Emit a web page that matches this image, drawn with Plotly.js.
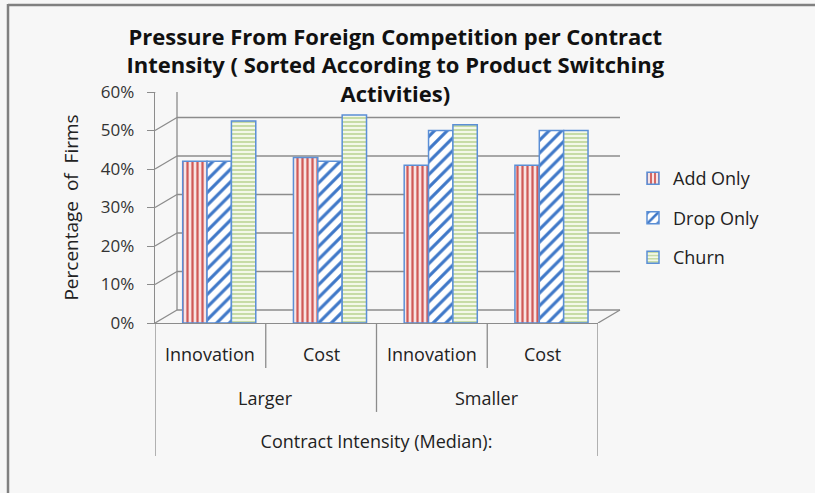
<!DOCTYPE html>
<html>
<head>
<meta charset="utf-8">
<script src="https://cdn.plot.ly/plotly-3.0.1.min.js"></script>
<style>html,body{margin:0;padding:0;background:#f7f7f7;}#chart{width:815px;height:493px;}</style>
</head>
<body>
<div id="chart"></div>
<script>
// ---- data ----
const groups = ['Larger', 'Larger', 'Smaller', 'Smaller'];
const subcats = ['Innovation', 'Cost', 'Innovation', 'Cost'];
const seriesNames = ['Add Only', 'Drop Only', 'Churn'];
const addOnly = [0.42, 0.43, 0.41, 0.41];
const dropOnly = [0.42, 0.42, 0.50, 0.50];
const churn = [0.525, 0.54, 0.515, 0.50];
const yTicks = [0, 0.1, 0.2, 0.3, 0.4, 0.5, 0.6];
const yTickLabels = ['0%', '10%', '20%', '30%', '40%', '50%', '60%'];
const titleText = 'Pressure From Foreign Competition per Contract<br>Intensity ( Sorted According to Product Switching<br>Activities)';
const xTitle = 'Contract Intensity (Median):';
const yTitle = 'Percentage  of  Firms';

const xCats = subcats.map((s, i) => groups[i] + ' ' + s);
const FONT = 'Open Sans, Noto Sans, sans-serif';
const GRID = '#8c8c8c';
const OUTLINE = '#5b8fd6';

const styles = [
  {fill: {shape: '|', fgcolor: '#d05a58', bgcolor: '#f8e4e4', size: 5, solidity: 0.45}, offset: -0.25},
  {fill: {shape: '/', fgcolor: '#3f78c8', bgcolor: '#ffffff', size: 9, solidity: 0.35}, offset: -0.03},
  {fill: {shape: '-', fgcolor: '#a9c97a', bgcolor: '#f3f8e8', size: 4, solidity: 0.3}, offset: 0.19}
];
const values = [addOnly, dropOnly, churn];

const traces = values.map((v, k) => ({
  type: 'bar',
  name: seriesNames[k],
  x: xCats,
  y: v,
  width: 0.22,
  offset: styles[k].offset,
  legendgroup: 'g' + k,
  marker: {color: styles[k].fill.bgcolor, pattern: styles[k].fill, line: {color: OUTLINE, width: 1.5}},
  hovertemplate: '%{y:.0%}<extra>' + seriesNames[k] + '</extra>'
}));

// back wall gridlines (oblique + horizontal), drawn with pixel offsets from the y scale
const shapes = [];
const DX = 22, DY = 13;
yTicks.forEach((t, i) => {
  shapes.push({type: 'line', layer: 'below', xref: 'paper', yref: 'y', xsizemode: 'pixel', ysizemode: 'pixel',
    xanchor: 0, yanchor: t, x0: 0, x1: DX, y0: 0, y1: DY, line: {color: GRID, width: 1.3}});
  shapes.push({type: 'line', layer: 'below', xref: 'paper', yref: 'y', xsizemode: 'pixel', ysizemode: 'pixel',
    xanchor: 0, yanchor: t, x0: DX, x1: (i === yTicks.length - 1 ? 383 : 465), y0: DY, y1: DY, line: {color: GRID, width: 1.3}});
});
// back wall left edge and floor right edge
shapes.push({type: 'line', layer: 'below', xref: 'paper', yref: 'y', xsizemode: 'pixel', ysizemode: 'pixel',
  xanchor: 0, yanchor: 0, x0: DX, x1: DX, y0: DY, y1: DY + 231, line: {color: GRID, width: 1.3}});
shapes.push({type: 'line', layer: 'below', xref: 'paper', yref: 'y', xsizemode: 'pixel', ysizemode: 'pixel',
  xanchor: 1, yanchor: 0, x0: 0, x1: DX, y0: 0, y1: DY, line: {color: GRID, width: 1.3}});
// category separators below the axis
const sepDepth = [-0.576, -0.195, -0.385, -0.195, -0.576];
sepDepth.forEach((d, i) => {
  shapes.push({type: 'line', xref: 'x', yref: 'paper', x0: i - 0.5, x1: i - 0.5, y0: 0, y1: d,
    line: {color: GRID, width: 1.3}});
});
// outer border of the chart picture
shapes.push({type: 'line', xref: 'paper', yref: 'paper', xsizemode: 'pixel', ysizemode: 'pixel',
  xanchor: 0, yanchor: 1, x0: -147, x1: 700, y0: 87, y1: 87, line: {color: '#808080', width: 2.5}});
shapes.push({type: 'line', xref: 'paper', yref: 'paper', xsizemode: 'pixel', ysizemode: 'pixel',
  xanchor: 0, yanchor: 1, x0: -147, x1: -147, y0: 88, y1: -420, line: {color: '#808080', width: 2.5}});

const annotations = [];
subcats.forEach((s, i) => annotations.push({xref: 'x', yref: 'paper', x: i, y: -0.134, text: s, showarrow: false,
  font: {family: FONT, size: 18, color: '#222'}, yanchor: 'middle'}));
[['Larger', 0.5], ['Smaller', 2.5]].forEach(g => annotations.push({xref: 'x', yref: 'paper', x: g[1], y: -0.325,
  text: g[0], showarrow: false, font: {family: FONT, size: 18, color: '#222'}, yanchor: 'middle'}));

const layout = {
  width: 815, height: 493,
  paper_bgcolor: '#f7f7f7', plot_bgcolor: 'rgba(0,0,0,0)',
  margin: {l: 155, r: 217, t: 92, b: 170, autoexpand: false},
  barmode: 'group',
  title: {text: titleText, x: 0.485, xanchor: 'center', y: 0.909, yanchor: 'top',
    font: {family: FONT, size: 22, color: '#111', weight: 'bold'}},
  xaxis: {type: 'category', showticklabels: false, showgrid: false, zeroline: false,
    showline: true, linecolor: GRID, linewidth: 1.3, range: [-0.5, 3.5], fixedrange: true,
    title: {text: xTitle, standoff: 112, font: {family: FONT, size: 18, color: '#222'}}},
  yaxis: {range: [0, 0.6], tickvals: yTicks, ticktext: yTickLabels, showgrid: false, zeroline: false,
    showline: true, linecolor: GRID, linewidth: 1.3, ticks: 'outside', ticklen: 7, tickcolor: GRID,
    ticklabelstandoff: 9, tickfont: {family: FONT, size: 17, color: '#333'},
    title: {text: yTitle, standoff: 17, font: {family: FONT, size: 19, color: '#222'}}},
  legend: {x: 1.079, xanchor: 'left', y: 0.705, yanchor: 'top', bgcolor: 'rgba(0,0,0,0)',
    font: {family: FONT, size: 18, color: '#222'}, itemwidth: 30, tracegroupgap: 13, traceorder: 'grouped'},
  shapes: shapes,
  annotations: annotations
};

Plotly.newPlot('chart', traces, layout, {displayModeBar: false, staticPlot: true});
</script>
</body>
</html>
